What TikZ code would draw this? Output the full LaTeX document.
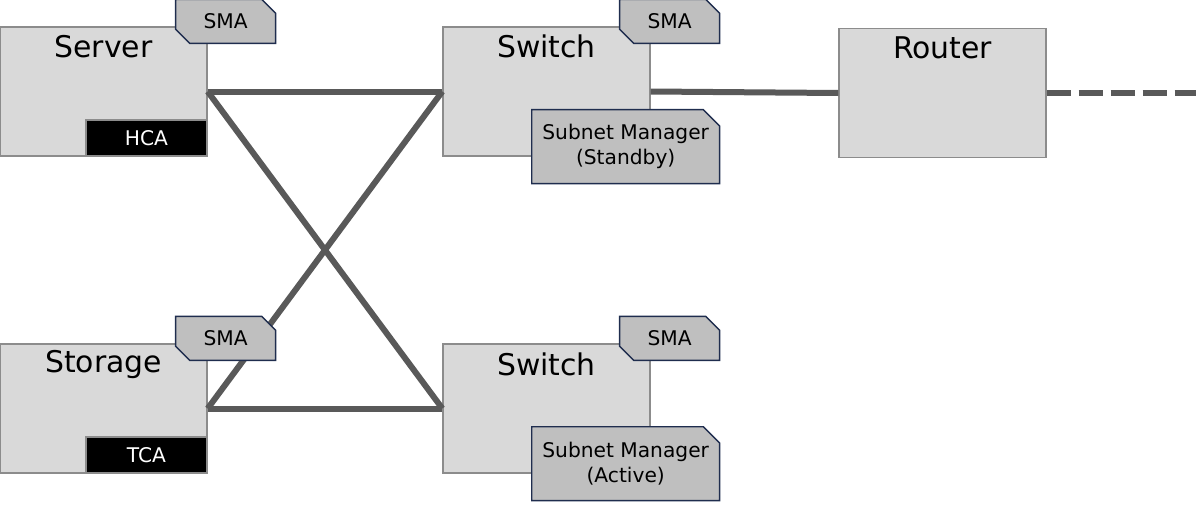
\documentclass[tikz,border=0pt]{standalone}
\usepackage{fontspec}
\setmainfont{DejaVu Sans}
\usetikzlibrary{positioning,shapes.misc}
\definecolor{boxfill}{HTML}{D9D9D9}
\definecolor{boxline}{HTML}{8C8C8C}
\definecolor{tagfill}{HTML}{BFBFBF}
\definecolor{tagline}{HTML}{1F2D4E}
\definecolor{cable}{HTML}{595959}
\tikzset{
  dev/.style={draw=boxline,fill=boxfill,line width=0.8pt,minimum width=4.14cm,minimum height=2.58cm,inner sep=0pt},
  devname/.style={font=\fontsize{17}{20}\selectfont,inner sep=0pt},
  ca/.style={draw=boxline,fill=black,text=white,line width=0.8pt,minimum width=2.42cm,minimum height=0.72cm,inner sep=0pt,anchor=south east,font=\fontsize{11.5}{13}\selectfont},
  sma/.style={chamfered rectangle,chamfered rectangle corners={north east,south west},chamfered rectangle xsep=0.26cm,draw=tagline,fill=tagfill,line width=0.8pt,minimum width=2cm,minimum height=0.88cm,inner sep=0pt,font=\fontsize{11.5}{13}\selectfont},
  smgr/.style={chamfered rectangle,chamfered rectangle corners=north east,chamfered rectangle xsep=0.2cm,draw=tagline,fill=tagfill,line width=0.8pt,minimum width=3.76cm,minimum height=1.48cm,inner sep=0pt,align=center,font=\fontsize{11.5}{14}\selectfont},
  link/.style={draw=cable,line width=0.12cm},
}
\begin{document}
\begin{tikzpicture}[x=0.02cm,y=-0.02cm]
  \useasboundingbox (0,0) rectangle (1200,504);
  % devices
  \node[dev] (srv) at (103.5,91.5) {};
  \node[dev] (sw1) at (546.5,91.5) {};
  \node[dev] (rtr) at (942.5,93) {};
  \node[dev] (sto) at (103.5,408.5) {};
  \node[dev] (sw2) at (546.5,408.5) {};
  \node[devname] at ([yshift=-0.4cm]srv.north) {Server};
  \node[devname] at ([yshift=-0.4cm]sw1.north) {Switch};
  \node[devname] at ([yshift=-0.4cm]rtr.north) {Router};
  \node[devname] at ([yshift=-0.42cm]sto.north) {Storage};
  \node[devname] at ([yshift=-0.42cm]sw2.north) {Switch};
  % cables
  \draw[link] (srv.east) -- (sw1.west);
  \draw[link] (srv.east) -- (sw2.west);
  \draw[link] (sto.east) -- (sw1.west);
  \draw[link] (sto.east) -- (sw2.west);
  \draw[link] (sw1.east) -- (rtr.west);
  \coordinate (out) at (1196,93);
  \draw[link,dash pattern=on 0.48cm off 0.16cm] (rtr.east) -- (out);
  % adapters and agents
  \node[ca] (hca) at (srv.south east) {HCA};
  \node[ca] (tca) at (sto.south east) {TCA};
  \node[sma] (sma1) at ([shift={(18,-5)}]srv.north east) {SMA};
  \node[sma] (sma2) at ([shift={(19,-5)}]sw1.north east) {SMA};
  \node[sma] (sma3) at ([shift={(18,-5)}]sto.north east) {SMA};
  \node[sma] (sma4) at ([shift={(19,-5)}]sw2.north east) {SMA};
  \node[smgr] (sm1) at ([shift={(-25,-10)}]sw1.south east) {Subnet Manager\\(Standby)};
  \node[smgr] (sm2) at ([shift={(-25,-10)}]sw2.south east) {Subnet Manager\\(Active)};
\end{tikzpicture}
\end{document}
